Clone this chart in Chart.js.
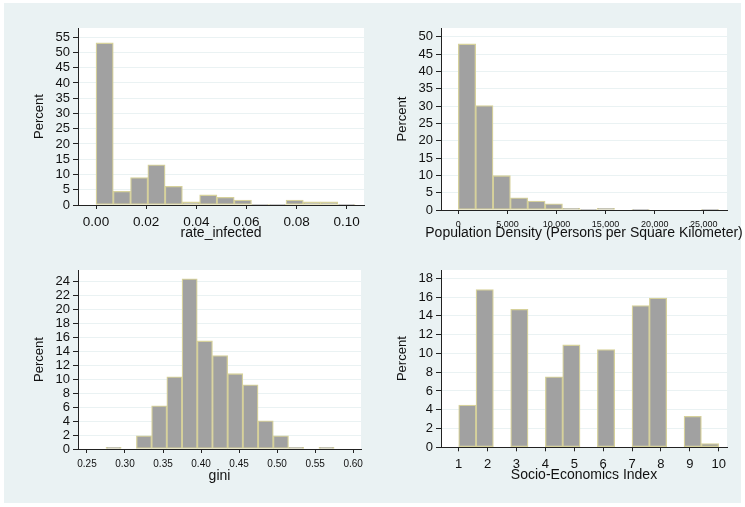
<!DOCTYPE html>
<html lang="en">

<head>
    <meta charset="UTF-8">
    <title>Histograms</title>
    <script src="https://cdn.jsdelivr.net/npm/chart.js"></script>
    <style>
        body {
            margin: 0;
            background: #fff;
        }

        .fondo {
            position: absolute;
            left: 4px;
            top: 3px;
            width: 737px;
            height: 500px;
            background: #eaf2f3;
        }

        canvas {
            position: absolute;
        }
    </style>
</head>

<body>
    <div class="fondo"></div>
    <canvas id="g1" width="364" height="251" style="left:4px;top:3px"></canvas>
    <canvas id="g2" width="377" height="251" style="left:368px;top:3px"></canvas>
    <canvas id="g3" width="364" height="249" style="left:4px;top:254px"></canvas>
    <canvas id="g4" width="377" height="249" style="left:368px;top:254px"></canvas>
</body>

<script>
    // rate_infected
    const rateBins = [0.00345, 0.01034, 0.01723, 0.02412, 0.03101, 0.0379, 0.04479, 0.05168,
        0.05857, 0.06546, 0.07235, 0.07924, 0.08613, 0.09302, 0.09991];
    const ratePct = [53.1, 4.5, 9.0, 13.2, 6.1, 1.0, 3.3, 2.5, 1.6, 0.2, 0.2, 1.6, 1.0, 1.0, 0.2];
    const rateXTicks = [0, 0.02, 0.04, 0.06, 0.08, 0.10];
    const rateYTicks = [0, 5, 10, 15, 20, 25, 30, 35, 40, 45, 50, 55];

    // densidad de poblacion
    const densBins = [884, 2652, 4420, 6188, 7956, 9724, 11492, 13260, 15028, 16796,
        18564, 20332, 22100, 23868, 25636];
    const densPct = [47.9, 30.1, 9.9, 3.5, 2.6, 1.8, 0.5, 0.1, 0.5, null, 0.1, null, null, null, 0.1];
    const densXTicks = [0, 5000, 10000, 15000, 20000, 25000];
    const densYTicks = [0, 5, 10, 15, 20, 25, 30, 35, 40, 45, 50];

    // gini
    const giniBins = [0.285, 0.305, 0.325, 0.345, 0.365, 0.385, 0.405, 0.425, 0.445, 0.465,
        0.485, 0.505, 0.525, 0.545, 0.565];
    const giniPct = [0.24, null, 1.9, 6.2, 10.35, 24.4, 15.5, 13.4, 10.8, 9.2, 4.05, 1.9, 0.24, null, 0.24];
    const giniXTicks = [0.25, 0.30, 0.35, 0.40, 0.45, 0.50, 0.55, 0.60];
    const giniYTicks = [0, 2, 4, 6, 8, 10, 12, 14, 16, 18, 20, 22, 24];

    // indice socioeconomico
    const sesBins = [1.3, 1.9, 2.5, 3.1, 3.7, 4.3, 4.9, 5.5, 6.1, 6.7, 7.3, 7.9, 8.5, 9.1, 9.7];
    const sesPct = [4.5, 16.8, null, 14.7, null, 7.5, 10.9, null, 10.4, null, 15.1, 15.9, null, 3.3, 0.4];
    const sesXTicks = [1, 2, 3, 4, 5, 6, 7, 8, 9, 10];
    const sesYTicks = [0, 2, 4, 6, 8, 10, 12, 14, 16, 18];

    const FUENTE = '"Liberation Sans", Arial, sans-serif';
    const TEXTO = '#111';
    Chart.defaults.font.family = FUENTE;

    // fondo blanco del area de trazado
    const fondoBlanco = {
        id: 'fondoBlanco',
        beforeDraw(chart) {
            const { ctx, chartArea: a } = chart;
            ctx.save();
            ctx.fillStyle = '#ffffff';
            ctx.fillRect(a.left, a.top, a.right - a.left, a.bottom - a.top);
            ctx.restore();
        }
    };

    // titulo del eje x (sin comprimir el texto)
    const tituloX = {
        id: 'tituloX',
        afterDraw(chart, args, opts) {
            const { ctx, chartArea: a } = chart;
            ctx.save();
            ctx.font = '14px ' + FUENTE;
            ctx.fillStyle = TEXTO;
            ctx.textAlign = 'center';
            ctx.textBaseline = 'middle';
            ctx.fillText(opts.text, (a.left + a.right) / 2, a.bottom + opts.offset);
            ctx.restore();
        }
    };

    function histograma(id, p) {
        new Chart(document.getElementById(id), {
            type: 'bar',
            data: {
                datasets: [{
                    data: p.bins.map((x, i) => ({ x: x, y: p.pct[i] })),
                    backgroundColor: '#a1a1a1',
                    borderColor: '#d6d19b',
                    borderWidth: 1.3,
                    borderSkipped: false,
                    barPercentage: 1,
                    categoryPercentage: 1
                }]
            },
            options: {
                responsive: false,
                animation: false,
                layout: { padding: p.pad },
                plugins: {
                    legend: { display: false },
                    tooltip: { enabled: false },
                    tituloX: { text: p.titulo, offset: p.offTitulo }
                },
                scales: {
                    x: {
                        type: 'linear',
                        min: p.xmin,
                        max: p.xmax,
                        offset: false,
                        grid: { offset: false, drawOnChartArea: false, tickLength: 4, tickColor: '#222' },
                        border: { color: '#222' },
                        ticks: { font: { size: p.xFont }, color: TEXTO, padding: 5, maxRotation: 0, autoSkip: false, callback: p.fmt },
                        afterBuildTicks: ax => { ax.ticks = p.xTicks.map(v => ({ value: v })); },
                        afterFit: ax => { ax.height = 30; }
                    },
                    y: {
                        min: 0,
                        max: p.ymax,
                        grid: { color: '#eaf2f3', tickColor: '#222', tickLength: 5 },
                        border: { color: '#222' },
                        ticks: { font: { size: 13 }, color: TEXTO, padding: 3, autoSkip: false },
                        afterBuildTicks: ax => { ax.ticks = p.yTicks.map(v => ({ value: v })); },
                        afterFit: ax => { ax.width = p.yw; },
                        title: { display: true, text: 'Percent', font: { size: 13 }, color: TEXTO, padding: 0 }
                    }
                }
            },
            plugins: [fondoBlanco, tituloX]
        });
    }

    histograma('g1', {
        bins: rateBins, pct: ratePct, xTicks: rateXTicks, yTicks: rateYTicks,
        xmin: -0.00718, xmax: 0.1069, ymax: 58, xFont: 13.5,
        fmt: v => v.toFixed(2), titulo: 'rate_infected', offTitulo: 28,
        pad: { left: 27.2, top: 25, right: 4, bottom: 19 }, yw: 46.8
    });

    histograma('g2', {
        bins: densBins, pct: densPct, xTicks: densXTicks, yTicks: densYTicks,
        xmin: -1762, xmax: 27362, ymax: 52.5, xFont: 9,
        fmt: v => v.toLocaleString('en-US'), titulo: 'Population Density (Persons per Square Kilometer)', offTitulo: 23,
        pad: { left: 26.9, top: 25, right: 18, bottom: 14 }, yw: 46.1
    });

    histograma('g3', {
        bins: giniBins, pct: giniPct, xTicks: giniXTicks, yTicks: giniYTicks,
        xmin: 0.2382, xmax: 0.6104, ymax: 25.67, xFont: 10,
        fmt: v => v.toFixed(2), titulo: 'gini', offTitulo: 26.7,
        pad: { left: 27.5, top: 16, right: 5, bottom: 24 }, yw: 46.5
    });

    histograma('g4', {
        bins: sesBins, pct: sesPct, xTicks: sesXTicks, yTicks: sesYTicks,
        xmin: 0.387, xmax: 10.287, ymax: 18.88, xFont: 13,
        fmt: v => String(v), titulo: 'Socio-Economics Index', offTitulo: 27.4,
        pad: { left: 26.9, top: 16, right: 18, bottom: 25.7 }, yw: 46.1
    });
</script>

</html>
